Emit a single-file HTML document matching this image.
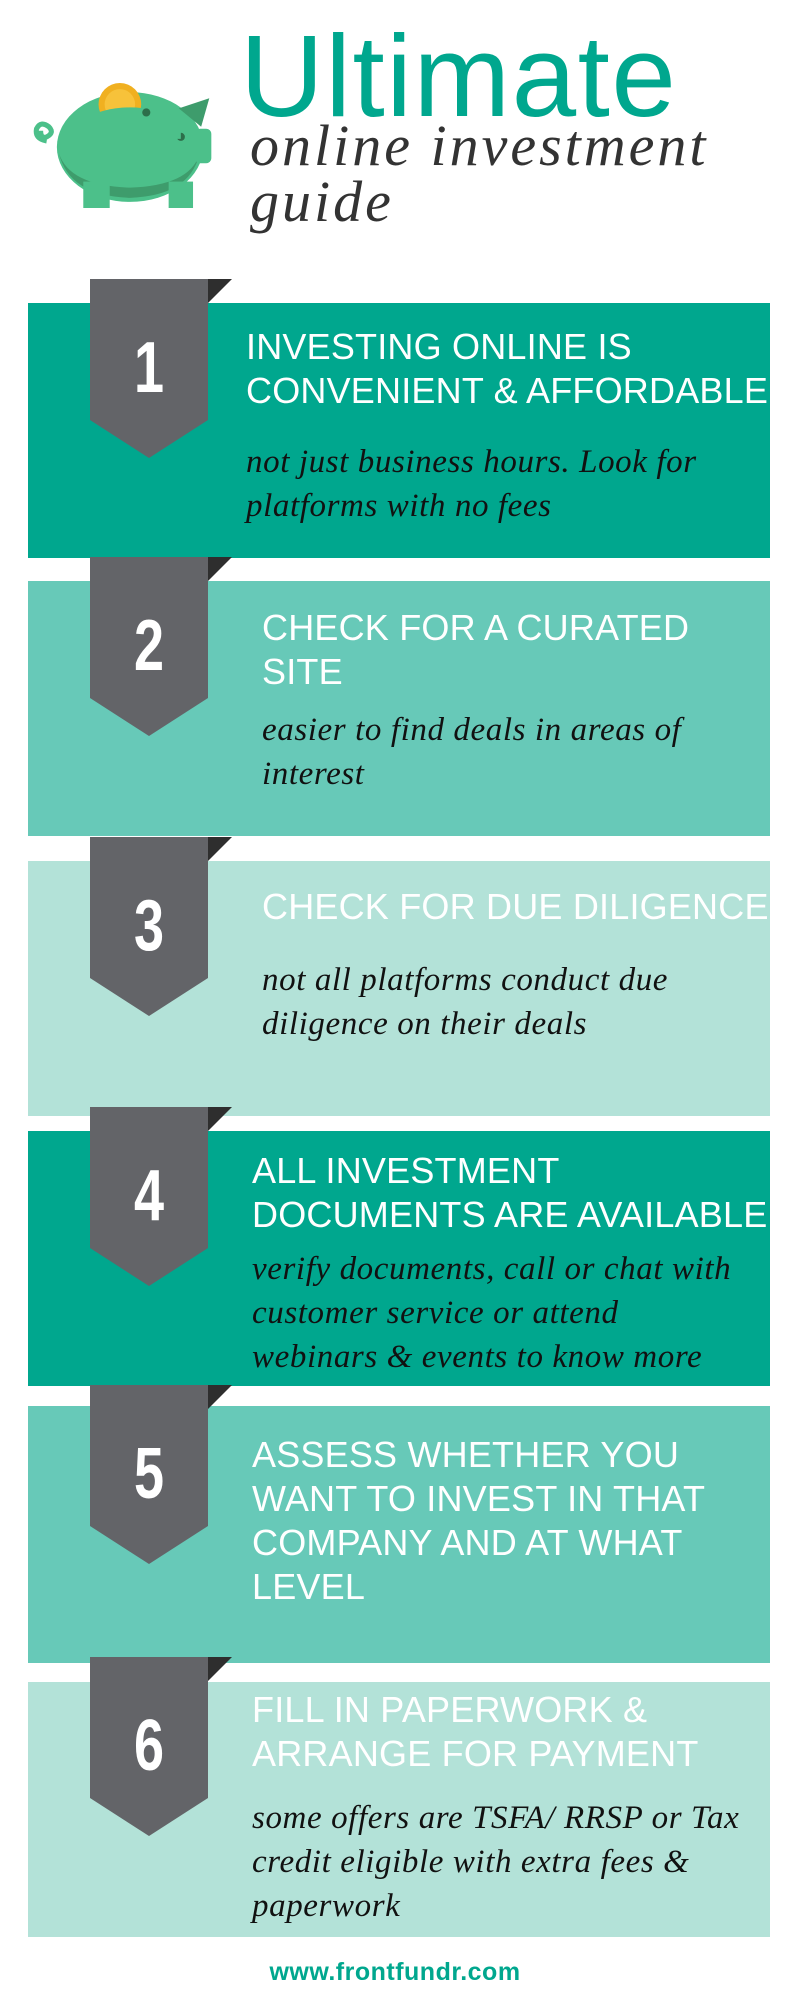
<!DOCTYPE html>
<html><head><meta charset="utf-8"><style>
*{margin:0;padding:0;box-sizing:border-box}
body{width:800px;height:2000px;background:#fff;position:relative;overflow:hidden;font-family:"Liberation Sans",sans-serif}
.p{position:absolute;left:28px;width:742px}
.t1{background:#00a78e}.t2{background:#67c9b8}.t3{background:#b3e2d8}
.rib{position:absolute;left:90px;width:118px}
.tri{position:absolute;left:208px;width:0;height:0;border-top:24px solid #2e2e2e;border-right:24px solid transparent}
.num{position:absolute;left:90px;width:118px;text-align:center;color:#fff;font-weight:bold;font-size:72px;line-height:80px;transform:scaleX(0.75)}
.h{position:absolute;color:#fff;font-size:36px;line-height:44px;white-space:nowrap;letter-spacing:0.2px}
.b{position:absolute;color:#111;font-family:"Liberation Serif",serif;font-style:italic;font-size:33px;line-height:44px;white-space:nowrap;letter-spacing:0.6px}
</style></head><body>

<svg style="position:absolute;left:26px;top:82px" width="204" height="126" viewBox="0 0 200 124">
<path d="M20 58 q-12 -2 -10 -12 q4 -8 12 -2 q6 6 -2 10 q-6 2 -6 -6" fill="none" stroke="#4cc08a" stroke-width="5"/>
<ellipse cx="102" cy="64" rx="72" ry="54" fill="#4cc08a"/>
<path d="M32 70 q10 42 70 44 q58 -2 68 -42 q-10 30 -68 32 q-60 -2 -70 -34z" fill="#3e9c6c"/>
<rect x="56" y="98" width="26" height="26" fill="#4cc08a"/>
<rect x="140" y="98" width="24" height="26" fill="#4cc08a"/>
<path d="M150 26 l30 -10 l-8 28z" fill="#3e9c6c"/>
<rect x="166" y="46" width="16" height="34" rx="5" fill="#4cc08a"/>
<circle cx="152" cy="54" r="4" fill="#2d6e4a"/>
<circle cx="92" cy="22" r="21" fill="#f0b020"/>
<circle cx="92" cy="22" r="15" fill="#f7c23a"/>
<path d="M56 36 q44 -22 96 0 l0 20 l-96 0z" fill="#4cc08a"/>
<circle cx="118" cy="30" r="4" fill="#2d6e4a"/>
</svg>

<div style="position:absolute;left:240px;top:16px;color:#00a78e;font-size:116px;line-height:120px;letter-spacing:1.5px">Ultimate</div>
<div style="position:absolute;left:250px;top:116px;color:#333;font-family:'Liberation Serif',serif;font-style:italic;font-size:58px;line-height:60px;letter-spacing:3px">online investment</div>
<div style="position:absolute;left:250px;top:172px;color:#333;font-family:'Liberation Serif',serif;font-style:italic;font-size:58px;line-height:60px;letter-spacing:3px">guide</div>

<div class="p t1" style="top:303px;height:255px"></div>
<div class="p t2" style="top:581px;height:255px"></div>
<div class="p t3" style="top:861px;height:255px"></div>
<div class="p t1" style="top:1131px;height:255px"></div>
<div class="p t2" style="top:1406px;height:257px"></div>
<div class="p t3" style="top:1682px;height:255px"></div>

<svg class="rib" style="top:279px" width="118" height="180"><polygon points="0,0 118,0 118,141 59,179 0,141" fill="#636468"/></svg><div class="tri" style="top:279px"></div>
<svg class="rib" style="top:557px" width="118" height="180"><polygon points="0,0 118,0 118,141 59,179 0,141" fill="#636468"/></svg><div class="tri" style="top:557px"></div>
<svg class="rib" style="top:837px" width="118" height="180"><polygon points="0,0 118,0 118,141 59,179 0,141" fill="#636468"/></svg><div class="tri" style="top:837px"></div>
<svg class="rib" style="top:1107px" width="118" height="180"><polygon points="0,0 118,0 118,141 59,179 0,141" fill="#636468"/></svg><div class="tri" style="top:1107px"></div>
<svg class="rib" style="top:1385px" width="118" height="180"><polygon points="0,0 118,0 118,141 59,179 0,141" fill="#636468"/></svg><div class="tri" style="top:1385px"></div>
<svg class="rib" style="top:1657px" width="118" height="180"><polygon points="0,0 118,0 118,141 59,179 0,141" fill="#636468"/></svg><div class="tri" style="top:1657px"></div>

<div class="num" style="top:328px">1</div>
<div class="num" style="top:606px">2</div>
<div class="num" style="top:886px">3</div>
<div class="num" style="top:1156px">4</div>
<div class="num" style="top:1434px">5</div>
<div class="num" style="top:1706px">6</div>

<div class="h" style="left:246px;top:325px">INVESTING ONLINE IS<br>CONVENIENT &amp; AFFORDABLE</div>
<div class="b" style="left:246px;top:440px">not just business hours. Look for<br>platforms with no fees</div>

<div class="h" style="left:262px;top:606px">CHECK FOR A CURATED<br>SITE</div>
<div class="b" style="left:262px;top:708px">easier to find deals in areas of<br>interest</div>

<div class="h" style="left:262px;top:885px">CHECK FOR DUE DILIGENCE</div>
<div class="b" style="left:262px;top:958px">not all platforms conduct due<br>diligence on their deals</div>

<div class="h" style="left:252px;top:1149px">ALL INVESTMENT<br>DOCUMENTS ARE AVAILABLE</div>
<div class="b" style="left:252px;top:1247px">verify documents, call or chat with<br>customer service or attend<br>webinars &amp; events to know more</div>

<div class="h" style="left:252px;top:1433px">ASSESS WHETHER YOU<br>WANT TO INVEST IN THAT<br>COMPANY AND AT WHAT<br>LEVEL</div>

<div class="h" style="left:252px;top:1688px">FILL IN PAPERWORK &amp;<br>ARRANGE FOR PAYMENT</div>
<div class="b" style="left:252px;top:1796px">some offers are TSFA/ RRSP or Tax<br>credit eligible with extra fees &amp;<br>paperwork</div>

<div style="position:absolute;left:0;width:790px;top:1957px;text-align:center;color:#00a78e;font-weight:bold;font-size:25px;line-height:30px;letter-spacing:0.5px">www.frontfundr.com</div>
</body></html>
